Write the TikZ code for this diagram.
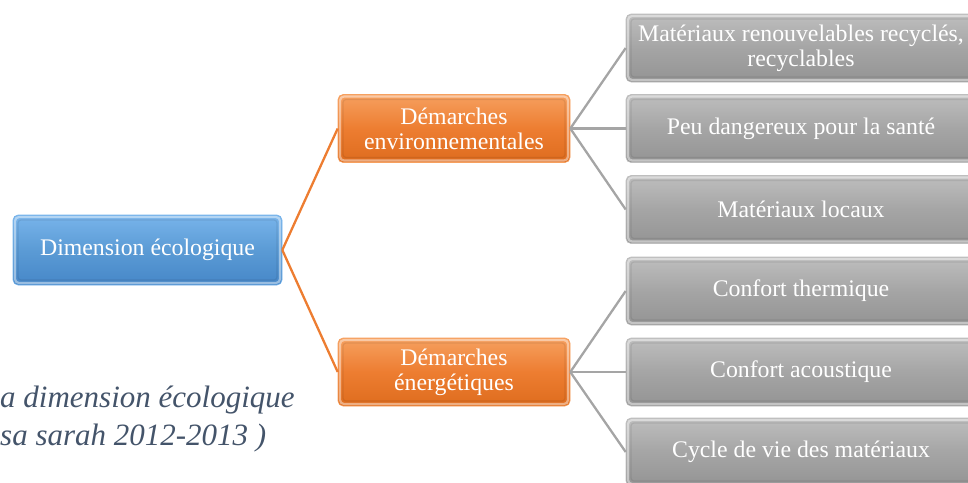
\documentclass[tikz,border=0pt]{standalone}
\usepackage{fontspec}
\setmainfont{Liberation Serif}
\definecolor{bluemid}{RGB}{91,155,213}
\definecolor{bluetop}{RGB}{120,180,235}
\definecolor{bluebot}{RGB}{70,135,200}
\definecolor{orgmid}{RGB}{237,125,49}
\definecolor{orgtop}{RGB}{246,160,95}
\definecolor{orgbot}{RGB}{222,108,30}
\definecolor{graymid}{RGB}{165,165,165}
\definecolor{graytop}{RGB}{190,190,190}
\definecolor{graybot}{RGB}{148,148,148}
\definecolor{captxt}{RGB}{68,84,106}
\tikzset{
  boxbase/.style={rounded corners=5pt, inner sep=0pt, align=center, text=white,
    font=\fontsize{23.8}{25}\selectfont,
    path picture={
      \draw[white, opacity=0.45, line width=2.2pt, rounded corners=4pt]
        ([shift={(2pt,-2pt)}]path picture bounding box.north west) rectangle
        ([shift={(-2pt,2pt)}]path picture bounding box.south east);
      \draw[black, opacity=0.08, line width=1.2pt, rounded corners=3pt]
        ([shift={(5pt,-5pt)}]path picture bounding box.north west) rectangle
        ([shift={(-5pt,5pt)}]path picture bounding box.south east);
    }},
  rootbox/.style={boxbase, top color=bluetop, bottom color=bluebot, middle color=bluemid,
    draw=bluetop, line width=0.6pt, minimum width=269pt, minimum height=70pt},
  midbox/.style={boxbase, top color=orgtop, bottom color=orgbot, middle color=orgmid,
    draw=orgtop, line width=0.6pt, minimum width=232pt, minimum height=68pt},
  leafbox/.style={boxbase, top color=graytop, bottom color=graybot, middle color=graymid,
    draw=graytop, line width=0.6pt, minimum width=350pt, minimum height=68pt},
  orgline/.style={draw=orgmid, line width=2.3pt},
  grayline/.style={draw=graymid, line width=2.3pt},
  captext/.style={anchor=base west, inner sep=0pt, text=captxt,
    font=\fontsize{31}{38}\selectfont\itshape}
}
\begin{document}
\begin{tikzpicture}[x=1pt,y=-1pt]
  \useasboundingbox (0,0) rectangle (968,482);
  \clip (0,0) rectangle (968,482);

  % root and branches
  \node[rootbox] (root) at (147.5,250) {Dimension écologique};
  \node[midbox] (env) at (454,128.5) {Démarches\\environnementales};
  \node[midbox] (ene) at (454,372) {Démarches\\énergétiques};

  % leaves
  \node[leafbox] (l1) at (801,48) {Matériaux renouvelables recyclés,\\recyclables};
  \node[leafbox] (l2) at (801,128.5) {Peu dangereux pour la santé};
  \node[leafbox] (l3) at (801,209.5) {Matériaux locaux};
  \node[leafbox] (l4) at (801,291) {Confort thermique};
  \node[leafbox] (l5) at (801,372) {Confort acoustique};
  \node[leafbox] (l6) at (801,452) {Cycle de vie des matériaux};

  % connectors
  \draw[orgline] (root.east) -- (env.west);
  \draw[orgline] (root.east) -- (ene.west);
  \foreach \n in {l1,l2,l3} \draw[grayline] (env.east) -- (\n.west);
  \foreach \n in {l4,l5,l6} \draw[grayline] (ene.east) -- (\n.west);

  % caption
  \node[captext] (cap1) at (0,407) {a dimension écologique};
  \node[captext] (cap2) at (0,445) {sa sarah 2012-2013 )};
\end{tikzpicture}
\end{document}
